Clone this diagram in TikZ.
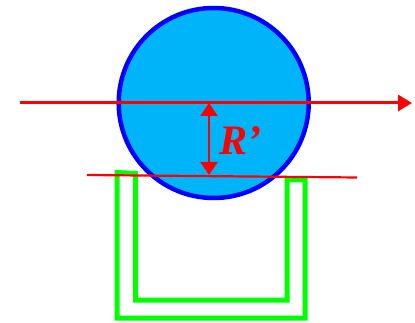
\documentclass[tikz,border=0pt]{standalone}
\usepackage{fontspec}
\setmainfont{Liberation Serif}
\usetikzlibrary{arrows.meta}
\definecolor{ballfill}{RGB}{0,180,250}
\definecolor{ballline}{RGB}{0,0,255}
\definecolor{redline}{RGB}{255,0,0}
\definecolor{greenline}{RGB}{0,255,0}
\tikzset{
  redstroke/.style={draw=redline, line width=2.2pt},
  greenwall/.style={draw=greenline, line width=5pt, line join=miter},
}
\begin{document}
\begin{tikzpicture}[x=1pt,y=-1pt]
\useasboundingbox (0,0) rectangle (415,323);
% green U-shaped container
\draw[greenwall] (117,172.5) -- (117,318) -- (305,318) -- (305,180) -- (287,180)
  -- (287,300) -- (135.5,300) -- (135.5,173.5) -- cycle;
% ball
\node[circle, draw=ballline, fill=ballfill, line width=4.5pt, minimum size=190pt, inner sep=0pt] (ball) at (213.7,103) {};
% lines
\coordinate (hstart) at (20,103);
\coordinate (hend) at (412,103);
\draw[redstroke, line width=3pt, -{Triangle[length=14pt,width=16pt]}] (hstart) -- (hend);
\coordinate (lstart) at (87,175);
\coordinate (lend) at (357,177.5);
\draw[redstroke] (lstart) -- (lend);
\coordinate (atop) at (209,103);
\coordinate (abot) at (209,175);
\draw[redstroke, {Triangle[length=13pt,width=17pt]}-{Triangle[length=13pt,width=17pt]}] (atop) -- (abot);
\node[text=redline, font=\fontsize{42}{42}\selectfont\bfseries\itshape, inner sep=0pt, anchor=base] (label) at (240,155) {R’};
\end{tikzpicture}
\end{document}
